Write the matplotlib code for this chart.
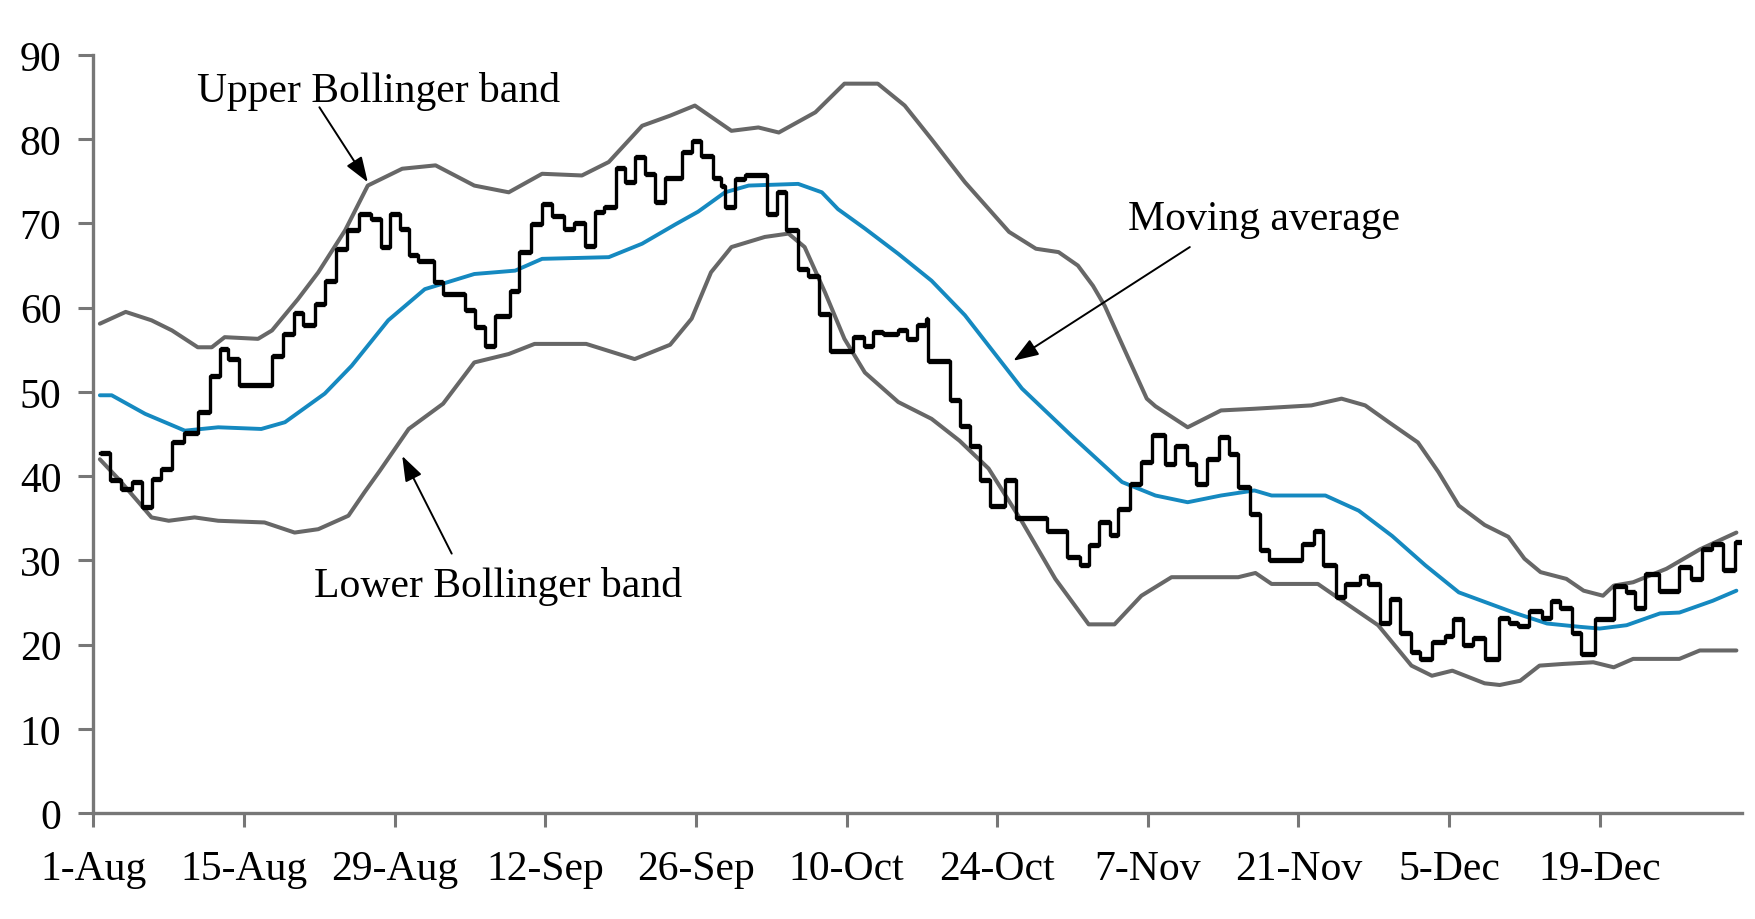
import matplotlib
matplotlib.use('Agg')
import matplotlib.pyplot as plt

plt.rcParams['font.family'] = ['Liberation Serif', 'DejaVu Serif']

# x positions are calendar days counted from 1-Aug
tick_days = [0, 14, 28, 42, 56, 70, 84, 98, 112, 126, 140]
tick_labels = ['1-Aug', '15-Aug', '29-Aug', '12-Sep', '26-Sep', '10-Oct',
               '24-Oct', '7-Nov', '21-Nov', '5-Dec', '19-Dec']
y_ticks = [0, 10, 20, 30, 40, 50, 60, 70, 80, 90]

# Price (step series): start day of each step and its level
price_day = [0.6, 1.5, 2.6, 3.6, 4.5, 5.4, 6.3, 7.3, 8.4, 9.7, 10.8, 11.8, 12.5, 13.5,
             16.6, 17.6, 18.6, 19.5, 20.6, 21.5, 22.5, 23.6, 24.7, 25.8, 26.7, 27.6,
             28.5, 29.3, 30.2, 31.7, 32.5, 34.5, 35.5, 36.4, 37.3, 38.7, 39.6, 40.7,
             41.7, 42.6, 43.7, 44.7, 45.7, 46.6, 47.5, 48.6, 49.4, 50.3, 51.3, 52.2,
             53.1, 54.7, 55.6, 56.5, 57.6, 58.3, 58.7, 59.6, 60.6, 62.6, 63.5, 64.4,
             65.5, 66.4, 67.4, 68.5, 70.6, 71.6, 72.5, 73.4, 74.8, 75.6, 76.5, 77.4,
             77.6, 79.6, 80.5, 81.5, 82.4, 83.3, 84.7, 85.7, 88.6, 90.5, 91.7, 92.5,
             93.5, 94.5, 95.2, 96.3, 97.4, 98.4, 99.6, 100.5, 101.6, 102.5, 103.5,
             104.6, 105.5, 106.4, 107.5, 108.4, 109.3, 112.3, 113.4, 114.3, 115.5,
             116.3, 117.7, 118.5, 119.6, 120.5, 121.4, 122.5, 123.3, 124.4, 125.6,
             126.4, 127.3, 128.2, 129.3, 130.6, 131.6, 132.4, 133.4, 134.6, 135.5,
             136.3, 137.4, 138.3, 139.6, 141.3, 142.4, 143.3, 144.2, 145.5, 147.4,
             148.5, 149.5, 150.4, 151.5, 152.6]
price_val = [42.8, 39.5, 38.5, 39.3, 36.3, 39.7, 40.8, 44.0, 45.1, 47.6, 51.9, 55.1, 53.9, 50.8,
             54.3, 56.9, 59.4, 58.0, 60.4, 63.2, 67.0, 69.2, 71.1, 70.5, 67.2, 71.1,
             69.3, 66.2, 65.6, 63.0, 61.6, 59.7, 57.7, 55.5, 59.0, 62.0, 66.6, 69.9,
             72.3, 70.9, 69.3, 70.1, 67.3, 71.4, 72.0, 76.6, 74.9, 77.9, 75.9, 72.5,
             75.4, 78.5, 79.8, 78.0, 75.4, 74.4, 71.9, 75.3, 75.8, 71.1, 73.7, 69.2,
             64.6, 63.8, 59.2, 54.9, 56.5, 55.5, 57.1, 56.9, 57.4, 56.3, 57.9, 58.7,
             53.7, 49.0, 46.0, 43.6, 39.6, 36.5, 39.5, 35.0, 33.5, 30.4, 29.4, 31.8,
             34.5, 33.0, 36.1, 39.1, 41.7, 44.9, 41.4, 43.6, 41.4, 39.1, 42.0,
             44.6, 42.6, 38.7, 35.5, 31.2, 30.0, 32.0, 33.5, 29.4, 25.6,
             27.2, 28.2, 27.2, 22.6, 25.4, 21.4, 19.1, 18.3, 20.3, 21.0,
             23.0, 19.9, 20.8, 18.3, 23.2, 22.6, 22.2, 24.0, 23.2, 25.2,
             24.4, 21.4, 18.9, 23.0, 27.0, 26.2, 24.4, 28.4, 26.4, 29.2,
             27.8, 31.3, 31.9, 28.9, 32.2]
price_end_day = 153.2

# Moving average
ma_day = [0.6, 1.7, 4.8, 8.5, 11.6, 15.6, 17.8, 21.5, 24.0, 27.4, 30.8, 35.4, 39.2, 41.7,
          47.9, 51.0, 54.1, 56.2, 58.7, 60.9, 65.5, 67.7, 69.2, 71.7, 74.8, 77.9, 81.0,
          86.3, 90.9, 95.6, 98.7, 101.7, 104.8, 107.9, 109.5, 114.5, 117.6, 120.7, 123.8,
          126.9, 130.3, 132.0, 135.1, 138.2, 140.0, 142.5, 145.6, 147.4, 150.5, 152.7]
ma_val = [49.6, 49.6, 47.4, 45.4, 45.8, 45.6, 46.4, 49.8, 53.1, 58.5, 62.2, 64.0, 64.4, 65.8,
          66.0, 67.6, 69.9, 71.4, 73.7, 74.5, 74.7, 73.7, 71.7, 69.4, 66.4, 63.2, 59.1,
          50.4, 44.8, 39.3, 37.7, 36.9, 37.7, 38.3, 37.7, 37.7, 35.9, 32.9, 29.4,
          26.2, 24.6, 23.8, 22.5, 22.1, 21.9, 22.3, 23.7, 23.8, 25.2, 26.4]

# Upper Bollinger band
up_day = [0.6, 3.0, 5.4, 7.3, 9.7, 11.0, 12.2, 15.3, 16.6, 19.0, 20.9, 23.4, 25.5, 28.7,
          31.8, 35.4, 38.6, 41.7, 45.4, 47.9, 51.0, 53.6, 55.9, 59.3, 61.8, 63.7, 67.1,
          69.8, 72.9, 75.4, 77.9, 81.0, 85.1, 87.6, 89.7, 91.5, 92.9, 94.0, 95.8, 97.9,
          98.7, 101.7, 104.8, 107.9, 113.2, 116.0, 118.2, 120.4, 123.1, 125.0, 126.9,
          129.3, 131.5, 133.0, 134.5, 136.9, 138.5, 140.3, 141.3, 143.1, 146.2, 149.3,
          152.7]
up_val = [58.1, 59.5, 58.5, 57.3, 55.3, 55.3, 56.5, 56.3, 57.3, 61.0, 64.2, 69.2, 74.5, 76.5,
          76.9, 74.5, 73.7, 75.9, 75.7, 77.3, 81.6, 82.8, 84.0, 81.0, 81.4, 80.8, 83.2,
          86.6, 86.6, 84.0, 80.0, 74.9, 69.0, 67.0, 66.6, 65.0, 62.6, 60.2, 55.1, 49.2,
          48.3, 45.8, 47.8, 48.0, 48.4, 49.2, 48.4, 46.4, 44.0, 40.5, 36.5,
          34.2, 32.8, 30.2, 28.6, 27.8, 26.4, 25.8, 27.0, 27.4, 29.0, 31.3,
          33.3]

# Lower Bollinger band
lo_day = [0.6, 2.3, 4.2, 5.4, 7.0, 9.4, 11.6, 15.9, 18.7, 20.9, 23.7, 25.2, 26.6, 29.3,
          32.5, 35.4, 38.6, 41.0, 45.8, 50.3, 53.6, 55.6, 57.4, 59.3, 62.4, 64.6, 66.1,
          68.0, 69.8, 71.7, 74.8, 77.9, 80.5, 83.2, 86.3, 89.4, 92.5, 94.9, 97.4, 100.2,
          106.4, 108.0, 109.5, 113.8, 116.3, 119.4, 122.5, 124.4, 126.3, 129.3, 130.7,
          132.6, 134.4, 136.6, 139.4, 141.3, 143.1, 147.4, 149.3, 152.7]
lo_val = [42.0, 39.7, 36.9, 35.1, 34.7, 35.1, 34.7, 34.5, 33.3, 33.7, 35.3, 38.1, 40.6, 45.6,
          48.6, 53.5, 54.5, 55.7, 55.7, 53.9, 55.6, 58.7, 64.2, 67.2, 68.4, 68.8, 67.2,
          61.8, 56.3, 52.3, 48.8, 46.8, 44.2, 40.9, 34.6, 27.8, 22.4, 22.4, 25.8, 28.0,
          28.0, 28.5, 27.2, 27.2, 25.0, 22.3, 17.5, 16.3, 16.9, 15.4, 15.2,
          15.7, 17.5, 17.7, 17.9, 17.3, 18.3, 18.3, 19.3, 19.3]

BAND = '#676767'
BLUE = '#1589c0'
AXIS = '#777777'

fig = plt.figure(figsize=(17.56, 9.2), dpi=100)
ax = fig.add_axes([0.0532, 0.1152, 0.9387, 0.8239])

line_kw = dict(solid_capstyle='round', solid_joinstyle='round')
ax.plot(up_day, up_val, color=BAND, lw=2.9, zorder=2, **line_kw)
ax.plot(lo_day, lo_val, color=BAND, lw=2.9, zorder=2, **line_kw)
ax.plot(ma_day, ma_val, color=BLUE, lw=2.8, zorder=3, **line_kw)

step_x = price_day + [price_end_day]
step_y = price_val + [price_val[-1]]
ax.step(step_x, step_y, where='post', color='black', lw=2.4, zorder=4)
ax.hlines(price_val, price_day, step_x[1:], color='black', lw=3.8, zorder=4)

ax.set_xlim(0, price_end_day)
ax.set_ylim(0, 90)
ax.set_xticks(tick_days)
ax.set_xticklabels(tick_labels)
ax.set_yticks(y_ticks)

for s in ['top', 'right']:
    ax.spines[s].set_visible(False)
for s in ['left', 'bottom']:
    ax.spines[s].set_color(AXIS)
    ax.spines[s].set_linewidth(2.4)

ax.tick_params(axis='both', colors=AXIS, labelcolor='black', width=2.2, labelsize=30)
ax.tick_params(axis='y', length=11, pad=12)
ax.tick_params(axis='x', length=10, pad=16)

arrow = dict(arrowstyle='-|>,head_length=0.7,head_width=0.25', color='black', lw=1.4,
             mutation_scale=22, shrinkA=0, shrinkB=0)

ax.text(9.6, 84.6, 'Upper Bollinger band', fontsize=30, ha='left', va='baseline')
ax.annotate('', xy=(25.5, 74.9), xytext=(21.0, 83.8), arrowprops=arrow)

ax.text(96.2, 69.4, 'Moving average', fontsize=30, ha='left', va='baseline')
ax.annotate('', xy=(85.5, 53.7), xytext=(101.9, 67.2), arrowprops=arrow)

ax.text(20.5, 25.8, 'Lower Bollinger band', fontsize=30, ha='left', va='baseline')
ax.annotate('', xy=(28.7, 42.4), xytext=(33.3, 30.8), arrowprops=arrow)

fig.savefig('out.png', dpi=100)
